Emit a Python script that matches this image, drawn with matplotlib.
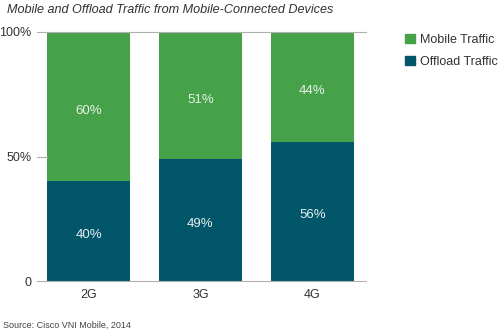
import matplotlib
matplotlib.use('Agg')
import matplotlib.pyplot as plt
from matplotlib.patches import Patch

# data
categories = ['2G', '3G', '4G']
offload = [40, 49, 56]
mobile = [60, 51, 44]
offload_labels = ['40%', '49%', '56%']
mobile_labels = ['60%', '51%', '44%']

green = '#45a248'
navy = '#02566a'
grid_gray = '#b0b0b0'

plt.rcParams['font.family'] = ['Liberation Sans', 'DejaVu Sans']

fig = plt.figure(figsize=(4.98, 3.32), dpi=100)
ax = fig.add_axes([37 / 498, 1 - 281 / 332, (366 - 37) / 498, (281 - 32) / 332])

x = range(len(categories))
ax.bar(x, offload, width=0.74, color=navy, label='Offload Traffic')
ax.bar(x, mobile, width=0.74, bottom=offload, color=green, label='Mobile Traffic')

# labels sit a little below the segment centre, as in the original
for i in x:
    ax.annotate(offload_labels[i], (i, offload[i] / 2), xytext=(0, -3),
                textcoords='offset points', ha='center', va='center',
                color='#e8eef0', fontsize=9.5)
    ax.annotate(mobile_labels[i], (i, offload[i] + mobile[i] / 2), xytext=(0, -3),
                textcoords='offset points', ha='center', va='center',
                color='#e8f2e8', fontsize=9.5)

ax.set_xlim(-0.46, 2.478)
ax.set_ylim(0, 100)
ax.set_yticks([0, 50, 100])
ax.set_yticklabels(['0', '50%', '100%'], fontsize=9, color='#333333')
ax.set_xticks(list(x))
ax.set_xticklabels(categories, fontsize=9, color='#333333')
ax.tick_params(axis='both', length=0)
ax.tick_params(axis='y', pad=4)
ax.tick_params(axis='x', pad=6)

for side in ['left', 'right']:
    ax.spines[side].set_visible(False)
for side in ['top', 'bottom']:
    ax.spines[side].set_color(grid_gray)
    ax.spines[side].set_linewidth(0.8)
ax.plot([-0.46, -0.37], [50, 50], color=grid_gray, lw=0.8, clip_on=False)

handles = [Patch(color=green, label='Mobile Traffic'), Patch(color=navy, label='Offload Traffic')]
fig.legend(handles=handles, loc='upper left', bbox_to_anchor=(402 / 498, 1 - 31 / 332),
           frameon=False, fontsize=9, handlelength=0.8, handleheight=0.8,
           handletextpad=0.4, labelspacing=0.8, labelcolor='#333333',
           borderaxespad=0, borderpad=0.2)

fig.text(7 / 498, 1 - 10 / 332, 'Mobile and Offload Traffic from Mobile-Connected Devices',
         fontsize=9.1, style='italic', color='#333333', va='center', ha='left')
fig.text(3 / 498, 1 - 325 / 332, 'Source: Cisco VNI Mobile, 2014',
         fontsize=6.5, color='#444444', va='center', ha='left')

fig.savefig('out.png', dpi=100)
